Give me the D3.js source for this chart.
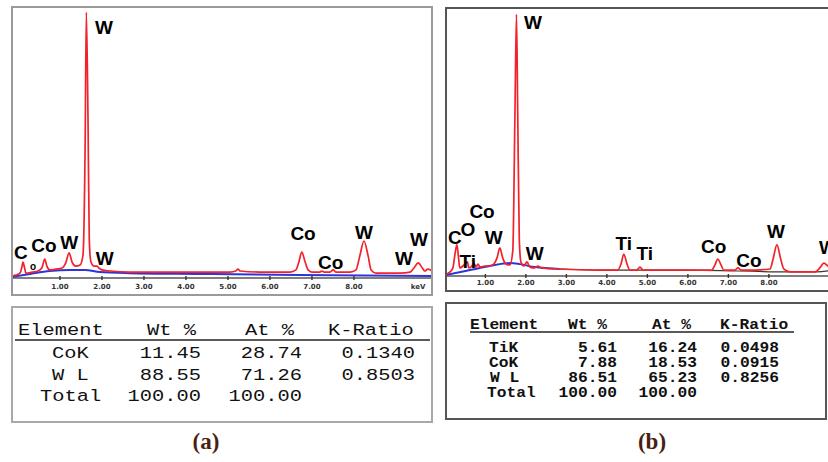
<!DOCTYPE html>
<html>
<head>
<meta charset="utf-8">
<script src="https://cdn.jsdelivr.net/npm/d3@7"></script>
<style>
  html, body { margin: 0; padding: 0; background: #fff; }
  svg { display: block; }
</style>
</head>
<body>
<svg id="chart" width="828" height="462"></svg>
<script>
// ---------- Spectrum (a): WC-Co ----------
const energyA = [-0.13,-0.04,0.06,0.11,0.13,0.17,0.20,0.35,0.49,0.58,0.65,0.70,0.77,0.92,1.06,1.15,1.23,1.30,1.39,1.49,1.56,1.61,1.64,1.68,1.71,1.75,1.82,1.89,1.94,2.01,2.20,2.68,3.87,5.06,5.20,5.25,5.30,5.77,6.49,6.63,6.70,6.77,6.85,6.92,7.01,7.20,7.25,7.30,7.44,7.52,7.58,7.92,8.06,8.15,8.25,8.35,8.42,8.54,9.11,9.35,9.44,9.54,9.64,9.70,9.77,9.87];
const countsA = [7,11,18,44,59,37,18,22,26,37,70,44,30,33,37,56,93,59,44,48,85,474,984,585,141,59,44,44,37,30,26,22,22,22,26,33,26,22,22,30,59,96,59,30,22,22,26,22,22,30,22,22,30,81,137,81,30,18,18,22,37,56,37,26,33,26];
const bgEnergyA = [-0.13,0.30,0.77,1.25,1.61,1.96,2.68,4.35,6.73,9.87];
const bgCountsA = [4,15,26,30,30,22,18,15,11,7];
const peakTextA = ["C","o","Co","W","W","W","Co","Co","W","W","W"];
const peakKeVA  = [0.08,0.37,0.63,1.23,2.06,2.08,6.80,7.46,8.25,9.20,9.56];
const peakCntA  = [72,28,98,109,905,50,139,35,146,50,117];

// ---------- Spectrum (b): WC-Ti-Co ----------
const energyB = [0.04,0.14,0.21,0.27,0.31,0.35,0.38,0.46,0.53,0.57,0.60,0.68,0.73,0.78,0.83,0.88,1.00,1.12,1.22,1.30,1.37,1.44,1.52,1.62,1.69,1.74,1.78,1.81,1.85,1.89,1.96,2.04,2.11,2.23,2.31,2.38,2.85,3.84,4.28,4.36,4.43,4.51,4.58,4.75,4.83,4.90,5.81,6.60,6.68,6.75,6.83,6.90,7.17,7.25,7.32,7.54,8.04,8.11,8.21,8.31,8.38,8.53,9.15,9.27,9.37,9.47,9.60];
const countsB = [7,15,30,89,115,67,30,37,48,52,30,37,48,33,44,33,37,37,44,67,104,67,44,41,96,577,969,614,133,52,37,52,33,30,37,30,26,22,22,44,81,44,22,22,33,22,22,22,41,63,41,22,22,30,22,22,26,59,115,59,26,15,15,30,48,37,30];
const bgEnergyB = [0.04,0.63,1.12,1.62,1.86,2.23,2.85];
const bgCountsB = [4,22,37,48,44,33,26];
const fitEnergyB = [2.85,4.00,6.00,8.50,9.20,9.60];
const fitCountsB = [26,22,22,15,15,22];
const peakTextB = ["C","O","Co","Ti","W","W","W","Ti","Ti","Co","Co","W","W"];
const peakKeVB  = [0.26,0.58,0.93,0.58,1.22,2.19,2.23,4.43,4.95,6.65,7.52,8.19,9.47];
const peakCntB  = [117,150,216,28,120,916,61,98,61,87,35,139,80];

// ---------- Axis ticks ----------
const tickKeV = [1,2,3,4,5,6,7,8];
const axisUnit = "keV";

// ---------- Quantification tables ----------
const headers = ["Element","Wt %","At %","K-Ratio"];
const elemA = ["CoK","W L","Total"];
const wtA   = ["11.45","88.55","100.00"];
const atA   = ["28.74","71.26","100.00"];
const kA    = ["0.1340","0.8503",""];
const elemB = ["TiK","CoK","W L","Total"];
const wtB   = ["5.61","7.88","86.51","100.00"];
const atB   = ["16.24","18.53","65.23","100.00"];
const kB    = ["0.0498","0.0915","0.8256",""];
const panelTags = ["(a)","(b)"];

const svg = d3.select("#chart");
const RED = "#f2222b", BLUE = "#2f33d8";

function spectrum(cfg) {
  const g = svg.append("g");
  // frame
  g.append("rect").attr("x", cfg.box[0]).attr("y", cfg.box[1])
    .attr("width", cfg.box[2] - cfg.box[0]).attr("height", cfg.box[3] - cfg.box[1])
    .attr("fill", "#fff").attr("stroke", cfg.frame).attr("stroke-width", 2);
  const x = d3.scaleLinear().domain(cfg.xDomain).range(cfg.xRange);
  const y = d3.scaleLinear().domain([0, 1000]).range([cfg.axisY, cfg.axisY - 270]);

  const clipId = "clip" + cfg.id;
  g.append("clipPath").attr("id", clipId).append("rect")
    .attr("x", cfg.box[0] + 1).attr("y", cfg.box[1] + 1)
    .attr("width", cfg.box[2] - cfg.box[0] - 2).attr("height", cfg.box[3] - cfg.box[1] - 2);
  const plot = g.append("g").attr("clip-path", `url(#${clipId})`);

  // energy axis with ticks
  const axis = d3.axisBottom(x).tickValues(tickKeV).tickSize(3).tickFormat(d3.format(".2f"));
  const ag = plot.append("g").attr("transform", `translate(0,${cfg.axisY})`).call(axis);
  ag.select(".domain").attr("d", `M${cfg.box[0]},0H${cfg.box[2]}`).attr("stroke", "#555").attr("stroke-width", 1.6);
  ag.selectAll(".tick line").attr("stroke", "#333").attr("stroke-width", 1.4).attr("y1", -2).attr("y2", 2);
  ag.selectAll(".tick text").attr("y", cfg.tickDy).attr("dy", 0)
    .attr("font-family", "DejaVu Sans").attr("font-weight", "bold").attr("font-size", 7).attr("fill", "#333");
  plot.append("text").attr("x", cfg.unitX).attr("y", cfg.axisY + cfg.tickDy)
    .attr("text-anchor", "middle").attr("font-family", "DejaVu Sans").attr("font-weight", "bold")
    .attr("font-size", 7).attr("fill", "#333").text(axisUnit);

  const line = d3.line().x(d => x(d[0])).y(d => y(d[1])).curve(d3.curveMonotoneX);
  // background continuum
  plot.append("path").datum(d3.zip(cfg.bgE, cfg.bgC)).attr("d", line)
    .attr("fill", "none").attr("stroke", BLUE).attr("stroke-width", 2);
  if (cfg.fitE) {
    plot.append("path").datum(d3.zip(cfg.fitE, cfg.fitC)).attr("d", line)
      .attr("fill", "none").attr("stroke", "#3a3a2a").attr("stroke-width", 1.2);
  }
  // measured spectrum
  plot.append("path").datum(d3.zip(cfg.e, cfg.c)).attr("d", line)
    .attr("fill", "none").attr("stroke", RED).attr("stroke-width", 1.7).attr("stroke-linejoin", "round");

  // peak identifications
  plot.selectAll("text.peak").data(d3.zip(cfg.labels, cfg.labE, cfg.labC)).join("text")
    .attr("class", "peak")
    .attr("x", d => x(d[1])).attr("y", d => y(d[2]))
    .attr("text-anchor", "middle")
    .attr("font-family", "Liberation Sans, Arial, sans-serif").attr("font-weight", "bold")
    .attr("font-size", d => d[0] === "o" ? 10 : 19).attr("fill", "#000")
    .text(d => d[0]);
}

spectrum({ id: "A", box: [12, 7, 432, 295], frame: "#9a9a9a", xDomain: [-0.13, 9.87], xRange: [12, 432],
  axisY: 278, tickDy: 11, unitX: 418,
  e: energyA, c: countsA, bgE: bgEnergyA, bgC: bgCountsA,
  labels: peakTextA, labE: peakKeVA, labC: peakCntA });

spectrum({ id: "B", box: [446, 8, 852, 291], frame: "#555", xDomain: [0.04, 10.0], xRange: [446, 849.4],
  axisY: 276, tickDy: 8.5, unitX: 838,
  e: energyB, c: countsB, bgE: bgEnergyB, bgC: bgCountsB, fitE: fitEnergyB, fitC: fitCountsB,
  labels: peakTextB, labE: peakKeVB, labC: peakCntB });

// ---------- tables ----------
function table(cfg) {
  const g = svg.append("g");
  g.append("rect").attr("x", cfg.box[0]).attr("y", cfg.box[1])
    .attr("width", cfg.box[2] - cfg.box[0]).attr("height", cfg.box[3] - cfg.box[1])
    .attr("fill", "#fff").attr("stroke", cfg.frame).attr("stroke-width", 2);
  const txt = (s, xPos, yPos, anchor) => g.append("text")
    .attr("transform", `translate(${xPos},${yPos}) scale(${cfg.sx},1)`)
    .attr("text-anchor", anchor)
    .attr("font-family", "Liberation Mono, Courier New, monospace")
    .attr("font-weight", cfg.weight).attr("font-size", cfg.fs).attr("fill", "#111").text(s);
  // header and rule
  cfg.headX.forEach((hx, i) => txt(headers[i], hx, cfg.headY, "start"));
  g.append("line").attr("x1", cfg.rule[0]).attr("x2", cfg.rule[1]).attr("y1", cfg.ruleY).attr("y2", cfg.ruleY)
    .attr("stroke", "#222").attr("stroke-width", 1.6);
  cfg.elem.forEach((el, i) => {
    const yy = cfg.rowY[i];
    txt(el, cfg.elemX[i], yy, "start");
    txt(cfg.wt[i], cfg.colR[0], yy, "end");
    txt(cfg.at[i], cfg.colR[1], yy, "end");
    if (cfg.k[i]) txt(cfg.k[i], cfg.colR[2], yy, "end");
  });
}

table({ box: [12, 307, 432, 422], frame: "#a8a8a8", fs: 17, sx: 1.2, weight: "normal",
  headX: [18, 147, 245, 328], headY: 335, rule: [15, 430], ruleY: 340,
  elem: elemA, elemX: [52, 52, 40], rowY: [358, 380, 401],
  wt: wtA, at: atA, k: kA, colR: [201, 302, 415] });

table({ box: [446, 303, 826, 419], frame: "#555", fs: 14.5, sx: 1.12, weight: "bold",
  headX: [470, 568, 652, 720], headY: 329, rule: [470, 794], ruleY: 332,
  elem: elemB, elemX: [489, 489, 490, 487], rowY: [352, 367, 382, 397],
  wt: wtB, at: atB, k: kB, colR: [617, 697, 779] });

// ---------- panel tags ----------
svg.selectAll("text.tag").data(d3.zip(panelTags, [206, 652])).join("text")
  .attr("class", "tag").attr("x", d => d[1]).attr("y", 449)
  .attr("text-anchor", "middle").attr("font-family", "Liberation Serif, Times New Roman, serif")
  .attr("font-weight", "bold").attr("font-size", 23).attr("fill", "#4a1f12").text(d => d[0]);
</script>
</body>
</html>
